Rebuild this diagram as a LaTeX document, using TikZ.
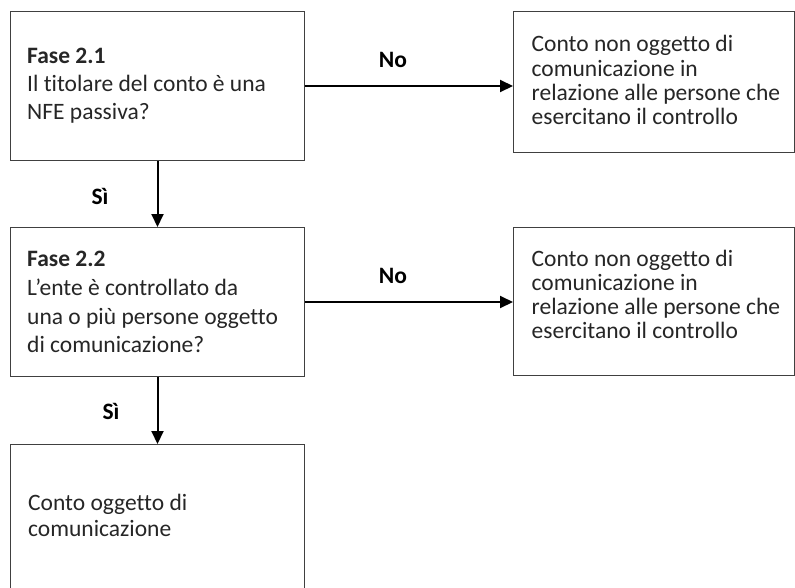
\documentclass[tikz,border=0pt]{standalone}
\usepackage{fontspec}
\setmainfont{Carlito}[Ligatures=NoCommon]
\usetikzlibrary{arrows.meta,calc}
\definecolor{boxline}{HTML}{404040}
\definecolor{txtcol}{HTML}{262626}
\newcommand{\boxlines}[2]{{\fontsize{23.5}{#1}\selectfont\begin{tabular}[t]{@{}l@{}}#2\end{tabular}}}
\begin{document}
\begin{tikzpicture}[x=1pt,y=-1pt,
  frame/.style={draw=boxline, line width=1pt, anchor=north west, inner sep=0pt, fill=white},
  txt/.style={anchor=base west, inner sep=0pt, text=txtcol},
  arr/.style={line width=2pt, -{Triangle[length=13pt,width=12pt]}},
  lab/.style={inner sep=0pt, font={\fontsize{23.5}{26}\selectfont\bfseries}, text=black}]
\useasboundingbox (0,0) rectangle (795,587);
\fill[white] (0,0) rectangle (795,587);
\clip (0,0) rectangle (795,587);

\node[frame, minimum width=294pt, minimum height=149pt] (b1) at (10,11) {};
\node[frame, minimum width=280.5pt, minimum height=141pt] (b2) at (513,11) {};
\node[frame, minimum width=294pt, minimum height=149pt] (b3) at (10,227) {};
\node[frame, minimum width=280.5pt, minimum height=148pt] (b4) at (513,227) {};
\node[frame, minimum width=294pt, minimum height=156pt] (b5) at (10,444) {};

\node[txt] (t1) at ($(b1.north west)+(17,52.3)$) {\boxlines{27.9}{\textbf{Fase 2.1}\\Il titolare del conto è una\\NFE passiva?}};
\node[txt] (t2) at ($(b2.north west)+(18.5,40.7)$) {\boxlines{24.3}{Conto non oggetto di\\comunicazione in\\relazione alle persone che\\esercitano il controllo}};
\node[txt] (t3) at ($(b3.north west)+(17,39.7)$) {\boxlines{28.7}{\textbf{Fase 2.2}\\L’ente è controllato da\\una o più persone oggetto\\di comunicazione?}};
\node[txt] (t4) at ($(b4.north west)+(18.5,39.7)$) {\boxlines{23.9}{Conto non oggetto di\\comunicazione in\\relazione alle persone che\\esercitano il controllo}};
\node[txt] (t5) at ($(b5.north west)+(18,66)$) {\boxlines{26.7}{Conto oggetto di\\comunicazione}};

\draw[arr] (b1.east) -- (b1.east -| b2.west);
\draw[arr] (b3.east) -- (b3.east -| b4.west);
\draw[arr] (b1.south) -- (b3.north);
\draw[arr] (b3.south) -- (b5.north);

\node[lab] (no1) at (393,60) {No};
\node[lab] (no2) at (393,276) {No};
\node[lab] (si1) at (100,196) {Sì};
\node[lab] (si2) at (111,411) {Sì};
\end{tikzpicture}
\end{document}
